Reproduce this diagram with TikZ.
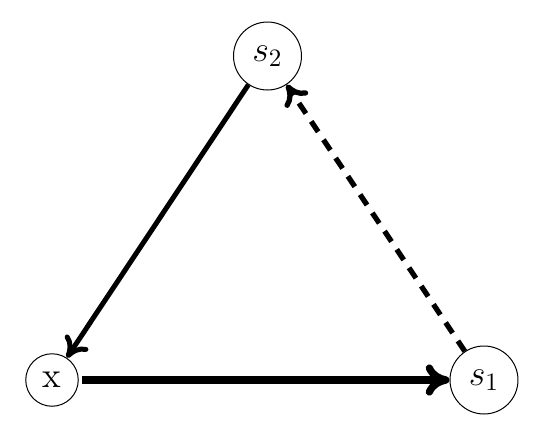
\documentclass[tikz,border=0pt]{standalone}
\usetikzlibrary{arrows.meta}
\begin{document}
\begin{tikzpicture}[x=0.4pt,y=-0.4pt,
  st/.style={circle,draw,thin,inner sep=0pt,font=\Large},
  edgeA/.style={-{To[length=8pt,width=11pt]},line width=2pt},
  edgeB/.style={-{To[length=9.5pt,width=12.5pt]},line width=2.9pt,shorten <=1.3pt},
  edgeC/.style={-{To[length=8pt,width=11pt]},line width=2.1pt,dash pattern=on 5pt off 3.8pt}]
\useasboundingbox (0,0) rectangle (543,442);
\node[st,minimum size=27.2pt] (s2) at (267.5,56) {$s_2$};
\node[st,minimum size=21pt] (x) at (52,380) {x};
\node[st,minimum size=27.2pt] (s1) at (484,380) {$s_1$};
\draw[edgeA] (s2) -- (x);
\draw[edgeB] (x) -- (s1);
\draw[edgeC] (s1) -- (s2);
\end{tikzpicture}
\end{document}
